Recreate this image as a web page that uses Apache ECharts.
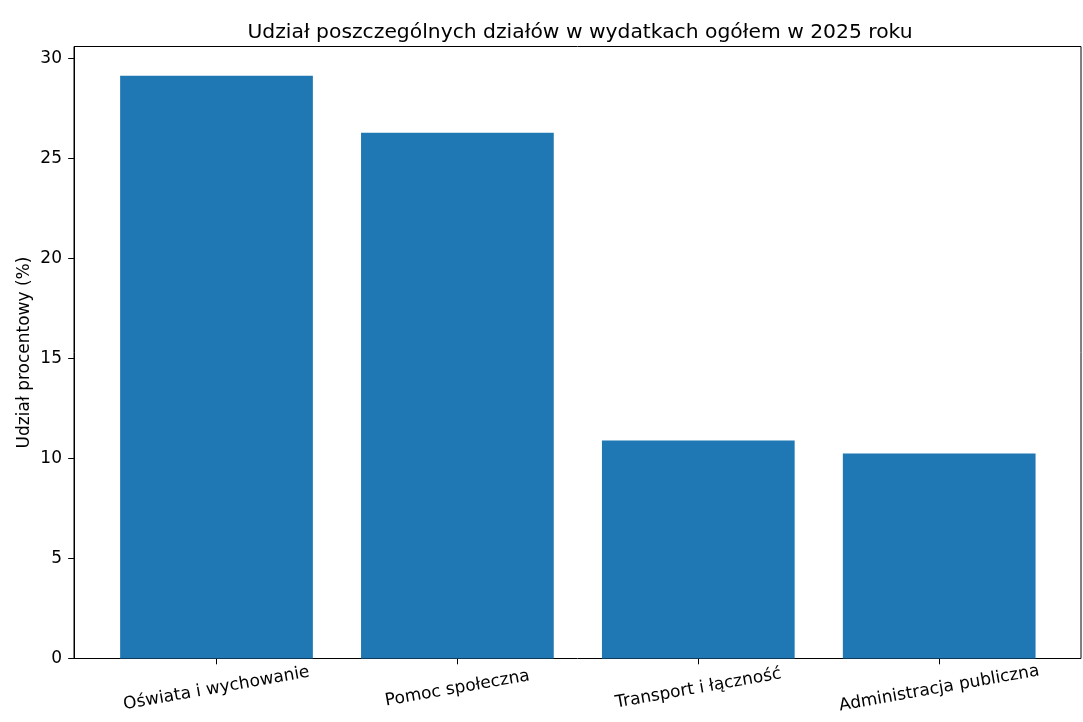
<!DOCTYPE html>
<html>
<head>
<meta charset="utf-8">
<script src="https://cdn.jsdelivr.net/npm/echarts@6/dist/echarts.min.js"></script>
<style>html,body{margin:0;padding:0;background:#fff}#c{width:1083px;height:722px}</style>
</head>
<body>
<div id="c"></div>
<script>
const title = 'Udział poszczególnych działów w wydatkach ogółem w 2025 roku';
const yAxisName = 'Udział procentowy (%)';
const categories = ['Oświata i wychowanie', 'Pomoc społeczna', 'Transport i łączność', 'Administracja publiczna'];
const values = [29.15, 26.3, 10.9, 10.25];
const labelPads = [7, 0, 2, 8];

const yMax = Math.max(...values) * 1.05;
const font = 'DejaVu Sans';
const chart = echarts.init(document.getElementById('c'), null, {renderer: 'canvas'});
chart.setOption({
  animation: false,
  backgroundColor: '#ffffff',
  title: {
    text: title, left: 575, top: 18, textAlign: 'center',
    textStyle: {fontFamily: font, fontSize: 20.3, fontWeight: 'normal', color: '#000'}
  },
  grid: [
    {left: 74, right: 2, top: 46.5, bottom: 63.5, show: true, borderColor: '#000', borderWidth: 1, backgroundColor: 'transparent'},
    {left: 96.05, right: 23.35, top: 46.5, bottom: 63.5}
  ],
  xAxis: [
    {gridIndex: 0, type: 'value', min: 0, max: 1, show: false},
    {
      gridIndex: 1, type: 'category',
      data: categories.map((c, i) => ({value: c, textStyle: {
        align: 'center', verticalAlign: 'middle', padding: [labelPads[i], 0, 0, 0],
        fontFamily: font, fontSize: 17, color: '#000'}})),
      axisLine: {show: false},
      axisTick: {show: true, alignWithLabel: true, length: 5.8, lineStyle: {color: '#000', width: 1}},
      axisLabel: {rotate: 10, align: 'center', verticalAlign: 'middle', margin: 30, interval: 0,
        fontFamily: font, fontSize: 17, color: '#000'},
      splitLine: {show: false}
    }
  ],
  yAxis: [
    {
      gridIndex: 0, type: 'value', min: 0, max: yMax, interval: 5,
      name: yAxisName, nameLocation: 'middle', nameGap: 41, nameMoveOverlap: false,
      nameTextStyle: {fontFamily: font, fontSize: 17, color: '#000'},
      axisLine: {show: true, lineStyle: {color: '#000', width: 1}},
      axisTick: {show: true, length: 5.8, lineStyle: {color: '#000', width: 1}},
      axisLabel: {margin: 12, fontFamily: font, fontSize: 17, color: '#000', showMaxLabel: false,
        formatter: v => (Math.abs(v - Math.round(v)) < 1e-9 ? String(Math.round(v)) : '')},
      splitLine: {show: false}
    },
    {gridIndex: 1, type: 'value', min: 0, max: yMax, show: false, splitLine: {show: false}}
  ],
  series: [{
    type: 'bar', xAxisIndex: 1, yAxisIndex: 1, data: values, barWidth: '80%',
    itemStyle: {color: '#1f77b4', borderWidth: 0}
  }]
});
</script>
</body>
</html>
